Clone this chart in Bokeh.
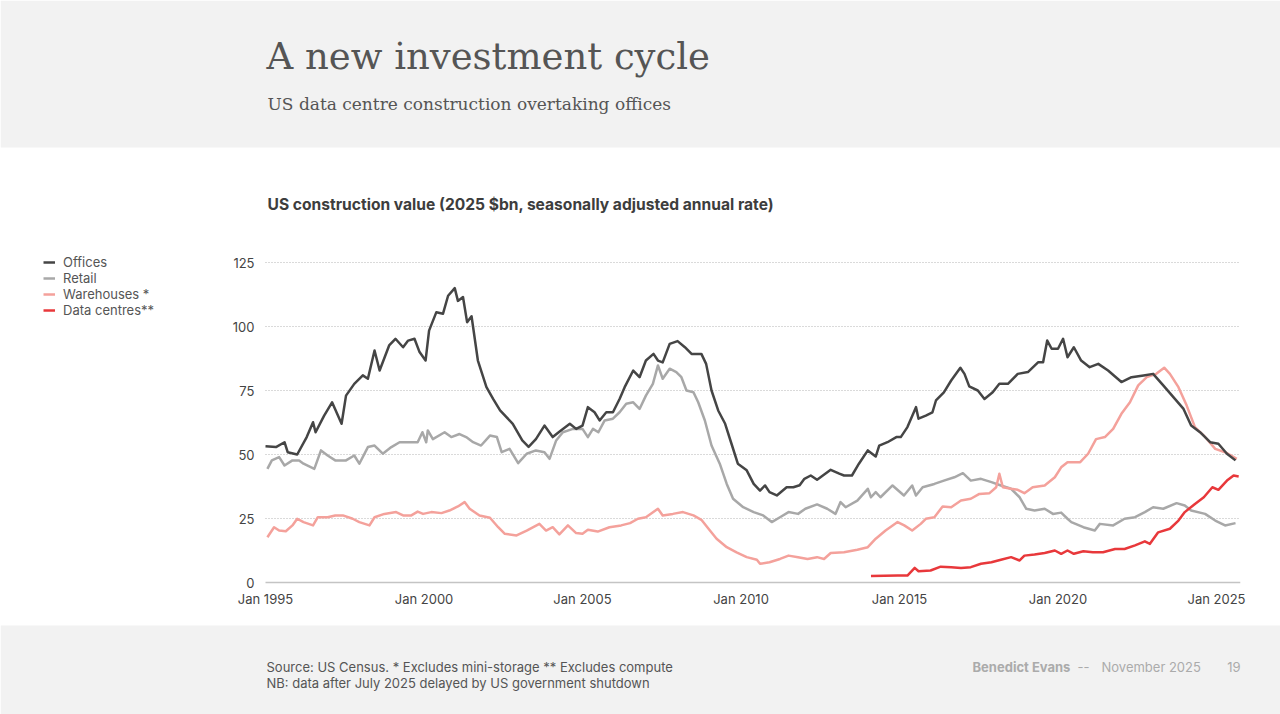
from bokeh.plotting import figure
from bokeh.models import Range1d, Legend, LegendItem
from bokeh.core.properties import value
from bokeh.embed import file_html
from bokeh.resources import INLINE

# ---------------- data ----------------
offices_x = [1995.0, 1995.33, 1995.6, 1995.7, 1996.0, 1996.3, 1996.5, 1996.58, 1996.85, 1997.1,
             1997.4, 1997.54, 1997.8, 1998.07, 1998.23, 1998.44, 1998.6, 1998.9, 1999.1, 1999.34,
             1999.5, 1999.7, 1999.86, 2000.05, 2000.16, 2000.39, 2000.6, 2000.76, 2000.97, 2001.07,
             2001.23, 2001.36, 2001.5, 2001.7, 2001.97, 2002.18, 2002.4, 2002.8, 2003.1, 2003.3,
             2003.53, 2003.8, 2004.06, 2004.32, 2004.6, 2004.8, 2005.0, 2005.17, 2005.38, 2005.54,
             2005.75, 2005.96, 2006.17, 2006.33, 2006.6, 2006.8, 2007.0, 2007.24, 2007.38, 2007.53,
             2007.75, 2008.0, 2008.23, 2008.44, 2008.75, 2008.9, 2009.07, 2009.28, 2009.5, 2009.7,
             2009.9, 2010.18, 2010.4, 2010.6, 2010.76, 2010.9, 2011.13, 2011.44, 2011.65, 2011.85,
             2012.0, 2012.2, 2012.4, 2012.83, 2013.1, 2013.25, 2013.5, 2013.72, 2014.0, 2014.25,
             2014.36, 2014.62, 2014.9, 2015.04, 2015.25, 2015.52, 2015.6, 2015.83, 2016.04, 2016.15,
             2016.4, 2016.63, 2016.92, 2017.05, 2017.2, 2017.47, 2017.68, 2017.94, 2018.15, 2018.42,
             2018.73, 2019.05, 2019.37, 2019.53, 2019.66, 2019.8, 2020.0, 2020.16, 2020.3, 2020.5,
             2020.73, 2021.0, 2021.27, 2021.58, 2022.0, 2022.32, 2022.7, 2023.0, 2023.32, 2023.64,
             2023.96, 2024.2, 2024.48, 2024.8, 2025.06, 2025.33, 2025.6]
offices_y = [53.2, 52.9, 54.8, 50.9, 50.0, 56.8, 62.6, 58.7, 65.2, 70.4,
             62.0, 73.0, 77.6, 80.9, 79.6, 90.6, 82.8, 92.6, 95.2, 91.9,
             94.5, 95.2, 90.0, 86.7, 98.4, 105.6, 105.0, 112.0, 115.0, 110.0,
             111.5, 101.7, 104.0, 86.7, 76.3, 71.7, 67.2, 62.0, 55.5, 53.0,
             56.0, 61.3, 56.8, 59.4, 62.0, 60.0, 61.3, 68.5, 66.5, 63.3,
             66.5, 66.5, 71.7, 76.3, 82.8, 80.2, 86.7, 89.3, 86.7, 86.0,
             93.2, 94.3, 91.9, 89.3, 89.3, 85.4, 75.0, 67.2, 62.0, 54.2,
             46.4, 43.8, 38.5, 35.9, 37.9, 35.3, 34.0, 37.2, 37.2, 38.0,
             40.5, 41.8, 40.1, 44.0, 42.5, 41.8, 41.8, 46.4, 51.6, 49.2,
             53.5, 54.8, 56.8, 56.8, 60.7, 68.5, 64.0, 65.2, 66.5, 71.1,
             74.3, 78.9, 83.9, 81.5, 76.6, 75.0, 71.7, 74.3, 77.6, 77.6,
             81.5, 82.2, 86.0, 86.0, 94.5, 91.3, 91.3, 95.2, 88.0, 91.9,
             86.7, 84.1, 85.4, 82.8, 78.3, 80.2, 80.9, 81.5, 77.0, 72.4,
             67.8, 61.3, 58.7, 54.8, 54.2, 50.3, 47.7]

retail_x = [1995.06, 1995.2, 1995.43, 1995.6, 1995.85, 1996.06, 1996.2, 1996.54, 1996.75, 1996.96,
            1997.2, 1997.54, 1997.8, 1997.96, 1998.23, 1998.44, 1998.7, 1998.97, 1999.23, 1999.54,
            1999.8, 1999.95, 2000.07, 2000.12, 2000.28, 2000.65, 2000.86, 2001.12, 2001.33, 2001.55,
            2001.8, 2002.08, 2002.3, 2002.45, 2002.7, 2002.97, 2003.24, 2003.53, 2003.8, 2003.96,
            2004.17, 2004.38, 2004.7, 2005.0, 2005.17, 2005.33, 2005.5, 2005.7, 2005.96, 2006.17,
            2006.38, 2006.6, 2006.8, 2007.0, 2007.22, 2007.38, 2007.53, 2007.75, 2007.96, 2008.12,
            2008.28, 2008.5, 2008.65, 2008.86, 2009.07, 2009.33, 2009.55, 2009.75, 2010.07, 2010.4,
            2010.7, 2010.97, 2011.23, 2011.5, 2011.8, 2012.03, 2012.4, 2012.72, 2012.98, 2013.14,
            2013.3, 2013.67, 2014.0, 2014.1, 2014.25, 2014.4, 2014.78, 2015.14, 2015.4, 2015.52,
            2015.73, 2016.1, 2016.4, 2016.73, 2017.0, 2017.25, 2017.57, 2017.9, 2018.2, 2018.52,
            2018.79, 2019.0, 2019.26, 2019.58, 2019.84, 2020.1, 2020.3, 2020.42, 2020.8, 2021.16,
            2021.32, 2021.74, 2022.1, 2022.43, 2022.74, 2023.0, 2023.32, 2023.74, 2024.0, 2024.2,
            2024.64, 2024.96, 2025.27, 2025.6]
retail_y = [44.4, 47.7, 49.0, 45.7, 47.7, 47.7, 46.4, 44.4, 51.6, 49.6,
            47.7, 47.7, 49.6, 46.4, 52.9, 53.5, 50.3, 52.9, 54.8, 54.8,
            54.8, 58.7, 54.8, 59.4, 56.0, 58.7, 56.8, 58.0, 56.8, 54.8,
            53.5, 57.4, 56.8, 50.9, 52.2, 46.6, 50.3, 51.6, 50.9, 48.3,
            55.5, 58.7, 60.0, 60.0, 56.8, 60.0, 58.7, 63.3, 64.0, 66.5,
            69.8, 70.4, 67.8, 73.0, 77.6, 84.8, 79.6, 83.5, 82.2, 80.2,
            75.0, 74.3, 70.4, 63.3, 53.5, 46.4, 38.5, 32.7, 29.4, 27.5,
            26.2, 23.6, 25.5, 27.5, 26.8, 28.8, 30.5, 28.8, 26.8, 31.4,
            29.4, 32.0, 36.6, 33.3, 35.3, 33.3, 37.9, 34.0, 37.9, 34.0,
            37.2, 38.5, 39.8, 41.1, 42.7, 39.8, 40.5, 39.2, 37.9, 36.6,
            33.3, 28.8, 28.1, 28.8, 26.8, 27.3, 24.9, 23.6, 21.6, 20.3,
            22.9, 22.3, 24.9, 25.5, 27.5, 29.4, 28.8, 31.0, 30.1, 28.1,
            26.8, 24.2, 22.3, 23.2]

warehouses_x = [1995.06, 1995.27, 1995.43, 1995.64, 1995.85, 1996.0, 1996.2, 1996.5, 1996.65, 1996.96,
                1997.2, 1997.44, 1997.75, 1997.96, 1998.28, 1998.44, 1998.75, 1999.12, 1999.34, 1999.6,
                1999.8, 1999.97, 2000.23, 2000.55, 2000.8, 2001.07, 2001.28, 2001.44, 2001.75, 2002.08,
                2002.34, 2002.55, 2002.92, 2003.24, 2003.64, 2003.85, 2004.06, 2004.27, 2004.54, 2004.8,
                2005.0, 2005.17, 2005.48, 2005.85, 2006.22, 2006.5, 2006.75, 2007.0, 2007.38, 2007.53,
                2007.85, 2008.17, 2008.5, 2008.75, 2009.02, 2009.23, 2009.55, 2009.86, 2010.18, 2010.5,
                2010.6, 2010.9, 2011.23, 2011.5, 2011.8, 2012.1, 2012.4, 2012.62, 2012.83, 2013.25,
                2013.67, 2014.0, 2014.25, 2014.56, 2014.94, 2015.15, 2015.4, 2015.67, 2015.83, 2016.1,
                2016.36, 2016.63, 2016.94, 2017.25, 2017.52, 2017.84, 2018.05, 2018.15, 2018.26, 2018.52,
                2018.73, 2018.94, 2019.2, 2019.58, 2019.9, 2020.1, 2020.3, 2020.7, 2020.95, 2021.2,
                2021.48, 2021.74, 2022.0, 2022.27, 2022.53, 2022.8, 2023.1, 2023.35, 2023.53, 2023.8,
                2024.06, 2024.32, 2024.6, 2024.96, 2025.27, 2025.64]
warehouses_y = [17.7, 21.6, 20.3, 20.0, 22.3, 24.9, 23.6, 22.3, 25.5, 25.5,
                26.2, 26.2, 24.9, 23.6, 22.3, 25.5, 26.8, 27.5, 26.2, 26.2,
                27.7, 26.8, 27.5, 27.1, 28.1, 29.7, 31.4, 28.8, 26.2, 25.3,
                21.6, 19.0, 18.4, 20.3, 22.9, 20.3, 21.6, 18.8, 22.3, 19.3,
                19.0, 20.6, 19.9, 21.6, 22.3, 23.2, 24.9, 25.5, 28.8, 26.2,
                26.8, 27.5, 26.2, 24.5, 20.3, 17.1, 13.8, 11.8, 9.9, 8.9,
                7.3, 7.9, 9.2, 10.5, 9.9, 9.2, 9.9, 9.2, 11.5, 11.8,
                12.8, 13.8, 17.1, 20.3, 23.6, 22.3, 20.3, 22.9, 24.9, 25.5,
                29.7, 29.4, 32.0, 32.7, 34.6, 34.9, 37.2, 42.5, 37.2, 36.6,
                36.2, 34.9, 37.2, 37.9, 41.1, 45.0, 47.0, 47.0, 50.3, 56.0,
                56.8, 60.0, 65.9, 70.4, 77.0, 80.2, 81.5, 83.9, 81.5, 76.3,
                69.1, 60.7, 57.4, 52.2, 50.9, 48.3]

datacentres_x = [2014.1, 2014.94, 2015.25, 2015.48, 2015.6, 2015.98, 2016.3, 2016.63, 2016.94, 2017.25,
                 2017.57, 2017.9, 2018.2, 2018.52, 2018.79, 2018.94, 2019.26, 2019.58, 2019.9, 2020.1,
                 2020.3, 2020.5, 2020.8, 2021.1, 2021.42, 2021.8, 2022.1, 2022.43, 2022.74, 2022.9,
                 2023.16, 2023.53, 2023.8, 2024.0, 2024.32, 2024.6, 2024.87, 2025.06, 2025.33, 2025.54,
                 2025.7]
datacentres_y = [2.5, 2.7, 2.7, 5.7, 4.4, 4.7, 6.2, 6.0, 5.7, 6.0,
                 7.3, 7.9, 8.9, 9.9, 8.6, 10.5, 10.9, 11.5, 12.5, 11.2,
                 12.5, 11.2, 12.2, 11.8, 11.8, 13.1, 13.1, 14.5, 16.1, 15.1,
                 19.6, 21.0, 24.2, 27.5, 30.7, 33.3, 37.2, 36.2, 39.8, 41.8,
                 41.4]

series_names = ["Offices", "Retail", "Warehouses *", "Data centres**"]
x_tick_years = [1995, 2000, 2005, 2010, 2015, 2020, 2025]
x_tick_labels = ["Jan 1995", "Jan 2000", "Jan 2005", "Jan 2010", "Jan 2015", "Jan 2020", "Jan 2025"]
y_ticks = [0, 25, 50, 75, 100, 125]
y_tick_labels = ["0", "25", "50", "75", "100", "125"]
x_start, x_end = 1995.0, 2025.75

TITLE = "A new investment cycle"
SUBTITLE = "US data centre construction overtaking offices"
CHART_TITLE = "US construction value (2025 $bn, seasonally adjusted annual rate)"
SOURCE_1 = "Source: US Census. * Excludes mini-storage ** Excludes compute"
SOURCE_2 = "NB: data after July 2025 delayed by US government shutdown"
AUTHOR = "Benedict Evans"
SEP = "--"
DATE = "November 2025"
PAGE = "19"

# ---------------- layout / styles ----------------
W, H = 1280, 714
GREY_BG = "#f2f2f2"
SANS = "Inter"
SERIF = "DejaVu Serif"
C_OFF, C_RET, C_WARE, C_DC = "#454545", "#a8a8a8", "#f4a19b", "#e8383b"

# plot area in page pixels
PX_LEFT, PX_PER_YEAR = 265.0, 31.7
PX_ZERO, PX_PER_UNIT = 582.0, 2.56

p = figure(width=W, height=H, x_range=Range1d(0, W), y_range=Range1d(H, 0),
           output_backend="svg", toolbar_location=None, min_border=0,
           x_axis_location=None, y_axis_location=None)
p.grid.visible = False
p.outline_line_color = None
p.background_fill_color = "white"
p.border_fill_color = "white"

# data scales (years / $bn) laid over the page-pixel canvas
p.extra_x_ranges = {"yr": Range1d(1995 - PX_LEFT / PX_PER_YEAR, 1995 + (W - PX_LEFT) / PX_PER_YEAR)}
p.extra_y_ranges = {"val": Range1d(-(H - PX_ZERO) / PX_PER_UNIT, PX_ZERO / PX_PER_UNIT)}
D = dict(x_range_name="yr", y_range_name="val")

# page bands
p.quad(left=[0, 0], right=[W, W], top=[0, 625], bottom=[147, H], fill_color=GREY_BG, line_color=None)

# header
p.text(x=[266], y=[56], text=[TITLE], text_font=value(SERIF), text_font_size="37px",
       text_color="#555555", text_baseline="alphabetic")
p.text(x=[267], y=[103], text=[SUBTITLE], text_font=value(SERIF), text_font_size="17px",
       text_color="#555555", text_baseline="alphabetic")

# chart heading
p.text(x=[267], y=[204], text=[CHART_TITLE], text_font=value(SANS), text_font_size="15.6px",
       text_font_style="bold", text_color="#3d3d3d", text_baseline="middle")

# grid lines and axis line (through the data scales)
grid_vals = y_ticks[1:]
p.segment(x0=[x_start] * len(grid_vals), x1=[x_end] * len(grid_vals), y0=grid_vals, y1=grid_vals,
          line_color="#b5b5b5", line_width=1, line_dash="1 2", **D)
p.segment(x0=[x_start], x1=[x_end], y0=[0], y1=[0], line_color="#c4c4c4", line_width=1.5, **D)

# tick labels
p.text(x=[254] * len(y_ticks), y=y_ticks, text=y_tick_labels, y_range_name="val",
       text_font=value(SANS), text_font_size="13px", text_color="#444444",
       text_align="right", text_baseline="middle")
p.text(x=x_tick_years, y=[598] * len(x_tick_years), text=x_tick_labels, x_range_name="yr",
       text_font=value(SANS), text_font_size="13px", text_color="#444444",
       text_align="center", text_baseline="middle")

# series
r_ret = p.line(retail_x, retail_y, line_width=2.5, color=C_RET, line_join="round", **D)
r_ware = p.line(warehouses_x, warehouses_y, line_width=2.5, color=C_WARE, line_join="round", **D)
r_off = p.line(offices_x, offices_y, line_width=2.5, color=C_OFF, line_join="round", **D)
r_dc = p.line(datacentres_x, datacentres_y, line_width=2.5, color=C_DC, line_join="round", **D)

legend = Legend(items=[LegendItem(label=n, renderers=[r]) for n, r in
                       zip(series_names, [r_off, r_ret, r_ware, r_dc])],
                location=(43, H - 318), orientation="vertical")
legend.glyph_width = 12
legend.glyph_height = 16
legend.label_height = 16
legend.spacing = 0
legend.padding = 0
legend.margin = 0
legend.label_standoff = 8
legend.label_text_font = SANS
legend.label_text_font_size = "13px"
legend.label_text_color = "#555555"
legend.border_line_color = None
legend.background_fill_alpha = 0
p.add_layout(legend)

# footer
p.text(x=[266, 266], y=[666, 682], text=[SOURCE_1, SOURCE_2], text_font=value(SANS),
       text_font_size="13px", text_color="#555555", text_baseline="middle")
p.text(x=[972], y=[666], text=[AUTHOR], text_font=value(SANS), text_font_size="13px",
       text_font_style="bold", text_color="#ababab", text_baseline="middle")
p.text(x=[1077], y=[666], text=[SEP], text_font=value(SANS), text_font_size="13px",
       text_color="#ababab", text_baseline="middle")
p.text(x=[1101], y=[666], text=[DATE], text_font=value(SANS), text_font_size="13px",
       text_color="#ababab", text_baseline="middle")
p.text(x=[1240], y=[666], text=[PAGE], text_font=value(SANS), text_font_size="13px",
       text_color="#ababab", text_baseline="middle", text_align="right")

open("out.html", "w").write(file_html(p, INLINE))
